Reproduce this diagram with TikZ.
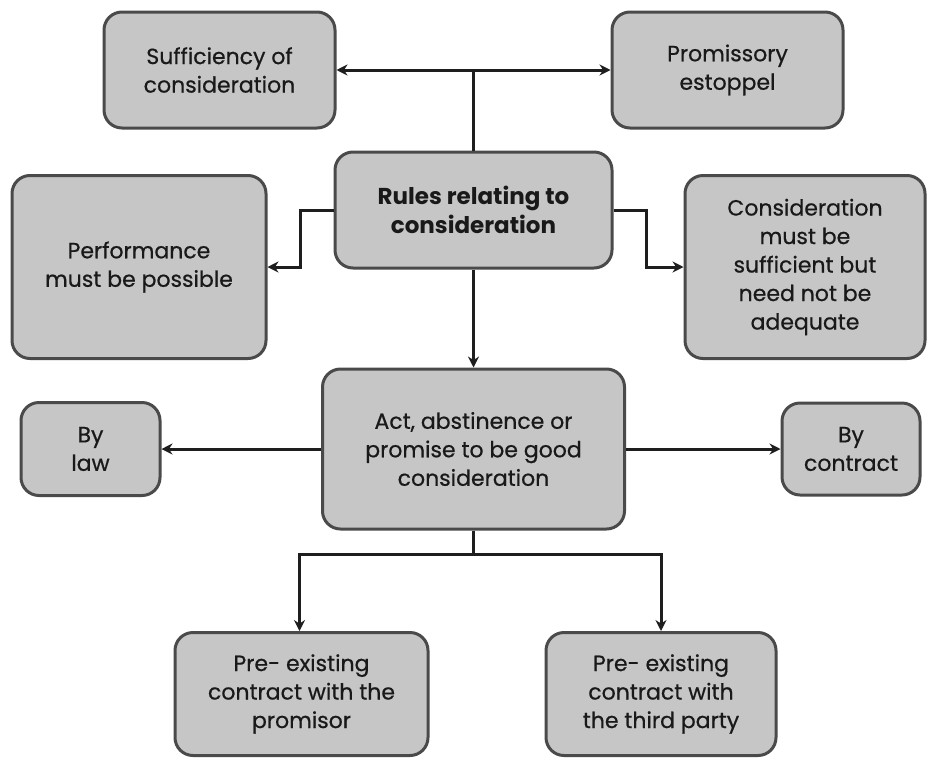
\documentclass[tikz,border=0pt]{standalone}
\usepackage{fontspec}
\setmainfont{Poppins}[UprightFeatures={FakeBold=0.6}]
\usetikzlibrary{arrows.meta,calc}
\definecolor{boxfill}{HTML}{C6C6C6}
\definecolor{boxline}{HTML}{4A4A4A}
\definecolor{linkline}{HTML}{1E1E1E}
\tikzset{
  card/.style={draw=boxline, line width=3pt, fill=boxfill, rounded corners=18pt,
    align=center, inner sep=0pt, font=\fontsize{22}{28.5}\selectfont, text=black!90},
  link/.style={draw=linkline, line width=3pt},
  arrowlink/.style={link, -{Stealth[length=11pt,width=11pt]}},
}
\begin{document}
\begin{tikzpicture}[x=1pt, y=-1pt]
\useasboundingbox (0,0) rectangle (928,766);

% boxes
\node[card, minimum width=231pt, minimum height=116pt] (suff) at (219.5,70) {Sufficiency of\\consideration};
\node[card, minimum width=231pt, minimum height=116pt] (prom) at (727.5,70) {Promissory\\estoppel};
\node[card, minimum width=277pt, minimum height=116pt, font=\fontsize{23}{28.5}\selectfont\bfseries] (rules) at (473.5,210) {Rules relating to\\consideration};
\node[card, minimum width=254pt, minimum height=183pt] (perf) at (139,267) {Performance\\must be possible};
\node[card, minimum width=240pt, minimum height=183pt] (cons) at (805,267) {Consideration\\must be\\sufficient but\\need not be\\adequate};
\node[card, minimum width=302pt, minimum height=160pt] (act) at (473.5,449) {Act, abstinence or\\promise to be good\\consideration};
\node[card, minimum width=139pt, minimum height=93pt] (law) at (90.5,449) {By\\law};
\node[card, minimum width=138pt, minimum height=92pt] (contr) at (851,449) {By\\contract};
\node[card, minimum width=253pt, minimum height=123pt] (pre1) at (301.5,694) {Pre- existing\\contract with the\\promisor};
\node[card, minimum width=230pt, minimum height=123pt] (pre2) at (661,694) {Pre- existing\\contract with\\the third party};

% connectors
\coordinate (top) at (rules.north |- suff.east);
\draw[arrowlink] (top) -- (suff.east);
\draw[arrowlink] (top) -- (prom.west);
\draw[link] (rules.north) -- (top);
\draw[arrowlink] (rules.west) -- ++(-33,0) |- (perf.east);
\draw[arrowlink] (rules.east) -- ++(33,0) |- (cons.west);
\draw[arrowlink] (rules.south) -- (act.north);
\draw[arrowlink] (act.west) -- (law.east);
\draw[arrowlink] (act.east) -- (contr.west);
\coordinate (split) at ($(act.south)+(0,24)$);
\draw[link] (act.south) -- (split);
\draw[arrowlink] (split) -| ([xshift=-2pt]pre1.north);
\draw[arrowlink] (split) -| (pre2.north);
\end{tikzpicture}
\end{document}
